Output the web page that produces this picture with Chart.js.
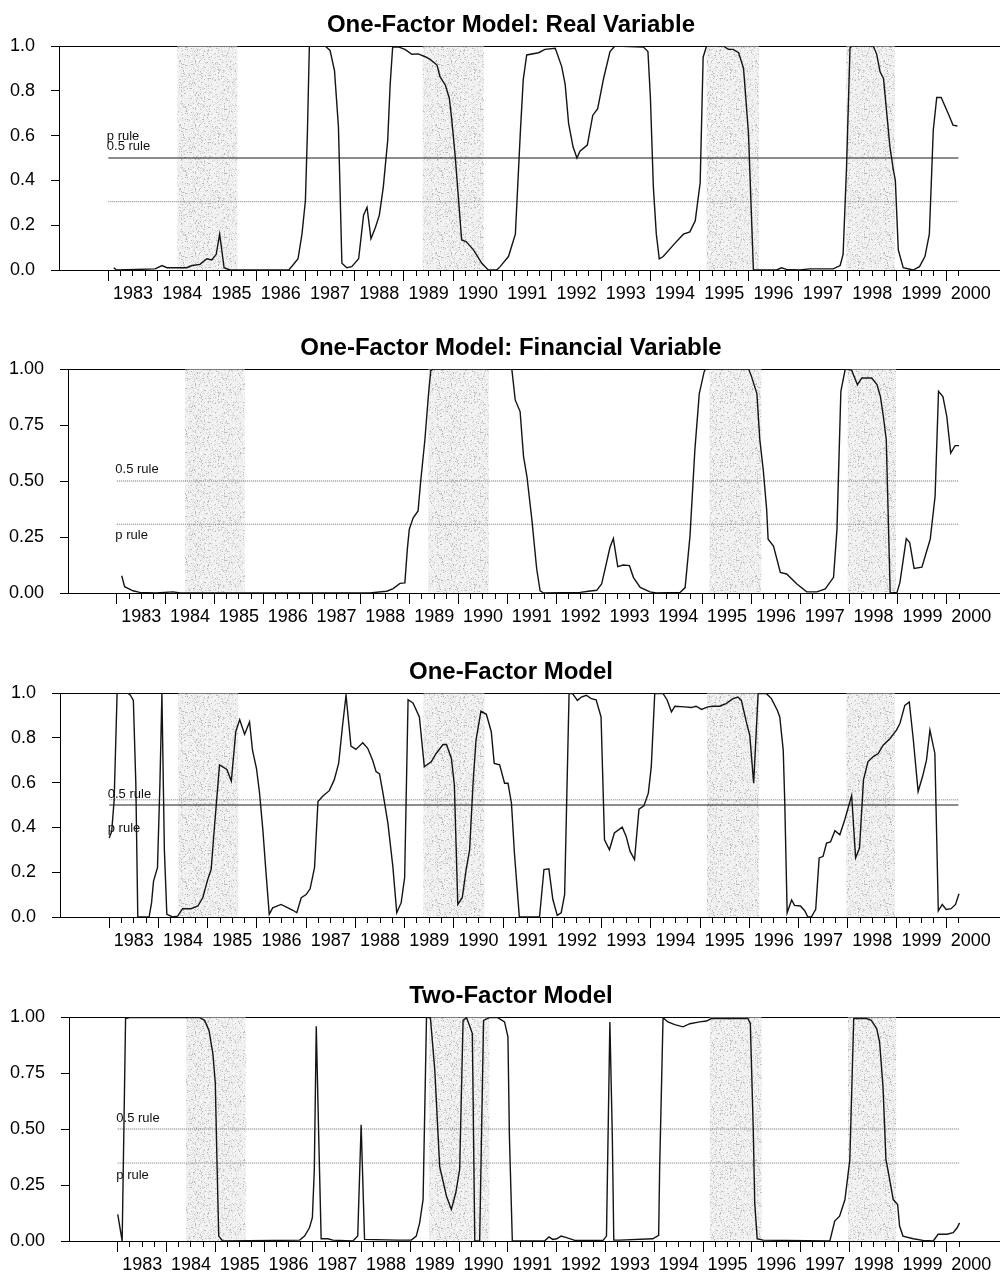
<!DOCTYPE html>
<html>
<head>
<meta charset="utf-8">
<script src="https://cdn.jsdelivr.net/npm/chart.js@4.4.1/dist/chart.umd.min.js"></script>
<style>
body { margin: 0; background: #fff; }
#wrap { position: relative; width: 1000px; height: 1273px; overflow: hidden; }
#wrap canvas { position: absolute; left: 0; }
</style>
</head>
<body>
<div id="wrap">
  <canvas id="c1" width="1022" height="302"></canvas>
  <canvas id="c2" width="1022" height="302"></canvas>
  <canvas id="c3" width="1022" height="302"></canvas>
  <canvas id="c4" width="1022" height="302"></canvas>
</div>
<script>
// year labels shown under the x axis (centred on mid-year)
var yearLabels = ['1983', '1984', '1985', '1986', '1987', '1988', '1989', '1990', '1991',
    '1992', '1993', '1994', '1995', '1996', '1997', '1998', '1999', '2000'];

// shaded periods (decimal years)
var shadeStart = [1984.40, 1989.38, 1995.14, 1997.97];
var shadeEnd = [1985.62, 1990.62, 1996.20, 1998.96];

// span of the two rule lines
var ruleSpan = [1983.0, 2000.25];
var halfRule = 0.5;
var pRuleValues = [0.305, 0.307, 0.523, 0.348];

// One-Factor Model: Real Variable
var realDates = [1983.11, 1983.17, 1983.95, 1984.09, 1984.19, 1984.59, 1984.70, 1984.86, 1985.00, 1985.10,
    1985.19, 1985.26, 1985.35, 1985.47, 1986.66, 1986.74, 1986.85, 1986.93, 1987.00, 1987.04,
    1987.08, 1987.40, 1987.50, 1987.59, 1987.67, 1987.74, 1987.84, 1987.94, 1988.08, 1988.18,
    1988.25, 1988.33, 1988.42, 1988.50, 1988.58, 1988.67, 1988.72, 1988.77, 1988.90, 1989.02,
    1989.16, 1989.29, 1989.43, 1989.53, 1989.67, 1989.73, 1989.84, 1989.92, 1989.97, 1990.04,
    1990.17, 1990.26, 1990.41, 1990.58, 1990.71, 1990.88, 1990.95, 1991.12, 1991.26, 1991.36,
    1991.42, 1991.49, 1991.73, 1991.86, 1992.07, 1992.20, 1992.27, 1992.34, 1992.43, 1992.51,
    1992.57, 1992.72, 1992.83, 1992.93, 1993.05, 1993.18, 1993.28, 1993.86, 1993.95, 1994.00,
    1994.06, 1994.12, 1994.18, 1994.26, 1994.50, 1994.67, 1994.80, 1994.91, 1995.01, 1995.07,
    1995.14, 1995.48, 1995.58, 1995.68, 1995.79, 1995.89, 1995.99, 1996.09, 1996.56, 1996.66,
    1996.76, 1997.03, 1997.23, 1997.71, 1997.85, 1997.91, 1997.98, 1998.05, 1998.08, 1998.52,
    1998.59, 1998.66, 1998.73, 1998.79, 1998.86, 1998.93, 1998.97, 1999.03, 1999.13, 1999.33,
    1999.46, 1999.57, 1999.66, 1999.74, 1999.81, 1999.90, 2000.04, 2000.14, 2000.23];
var realProb = [0.01, 0.0, 0.005, 0.02, 0.01, 0.01, 0.02, 0.025, 0.05, 0.045,
    0.07, 0.16, 0.01, 0.0, 0.0, 0.02, 0.05, 0.16, 0.31, 0.61,
    1.0, 1.0, 0.98, 0.89, 0.64, 0.03, 0.01, 0.015, 0.05, 0.245,
    0.28, 0.14, 0.19, 0.245, 0.37, 0.58, 0.83, 0.995, 0.995, 0.985,
    0.963, 0.965, 0.952, 0.94, 0.915, 0.863, 0.825, 0.767, 0.67, 0.506,
    0.134, 0.127, 0.09, 0.03, 0.0, 0.0, 0.015, 0.06, 0.16, 0.61,
    0.85, 0.96, 0.97, 0.985, 0.99, 0.908, 0.83, 0.655, 0.55, 0.50,
    0.53, 0.558, 0.69, 0.72, 0.855, 0.975, 1.0, 0.995, 0.975, 0.77,
    0.37, 0.16, 0.05, 0.06, 0.12, 0.16, 0.17, 0.22, 0.39, 0.95,
    1.0, 1.0, 0.985, 0.985, 0.97, 0.90, 0.61, 0.0, 0.0, 0.01,
    0.003, 0.0, 0.005, 0.005, 0.02, 0.07, 0.46, 0.99, 1.0, 1.0,
    0.965, 0.885, 0.855, 0.714, 0.55, 0.446, 0.40, 0.09, 0.01, 0.0,
    0.015, 0.06, 0.16, 0.625, 0.77, 0.77, 0.70, 0.647, 0.643];

// One-Factor Model: Financial Variable
var finDates = [1983.10, 1983.16, 1983.33, 1983.47, 1983.80, 1984.15, 1984.30, 1988.18, 1988.53, 1988.66,
    1988.80, 1988.90, 1988.95, 1988.99, 1989.07, 1989.17, 1989.22, 1989.31, 1989.38, 1989.43,
    1989.49, 1991.09, 1991.16, 1991.26, 1991.33, 1991.40, 1991.50, 1991.60, 1991.67, 1991.74,
    1992.49, 1992.66, 1992.83, 1992.93, 1993.03, 1993.10, 1993.17, 1993.26, 1993.37, 1993.50,
    1993.58, 1993.72, 1993.92, 1994.05, 1994.54, 1994.64, 1994.74, 1994.84, 1994.93, 1995.03,
    1995.06, 1995.94, 1996.00, 1996.11, 1996.17, 1996.24, 1996.31, 1996.34, 1996.45, 1996.59,
    1996.72, 1996.93, 1997.13, 1997.34, 1997.51, 1997.68, 1997.75, 1997.83, 1997.92, 1998.05,
    1998.17, 1998.26, 1998.46, 1998.57, 1998.64, 1998.70, 1998.76, 1998.84, 1998.98, 1999.04,
    1999.17, 1999.24, 1999.33, 1999.49, 1999.66, 1999.76, 1999.83, 1999.92, 2000.00, 2000.08,
    2000.17, 2000.25];
var finProb = [0.077, 0.028, 0.01, 0.003, 0.0, 0.005, 0.0, 0.0, 0.008, 0.02,
    0.043, 0.045, 0.195, 0.284, 0.336, 0.366, 0.49, 0.684, 0.877, 0.993,
    1.0, 1.0, 0.862, 0.81, 0.61, 0.52, 0.33, 0.107, 0.01, 0.0,
    0.003, 0.008, 0.012, 0.04, 0.136, 0.203, 0.243, 0.118, 0.125, 0.122,
    0.07, 0.025, 0.005, 0.0, 0.003, 0.024, 0.255, 0.64, 0.89, 0.988,
    1.0, 1.0, 0.966, 0.89, 0.684, 0.55, 0.373, 0.24, 0.21, 0.092,
    0.085, 0.04, 0.005, 0.005, 0.018, 0.07, 0.284, 0.90, 1.0, 0.995,
    0.93, 0.96, 0.96, 0.93, 0.877, 0.788, 0.684, 0.0, 0.003, 0.047,
    0.243, 0.225, 0.11, 0.115, 0.24, 0.432, 0.90, 0.877, 0.788, 0.625,
    0.658, 0.658];

// One-Factor Model
var oneDates = [1983.00, 1983.05, 1983.10, 1983.16, 1983.37, 1983.43, 1983.49, 1983.54, 1983.58, 1983.81,
    1983.86, 1983.90, 1983.98, 1984.03, 1984.07, 1984.12, 1984.17, 1984.29, 1984.39, 1984.49,
    1984.66, 1984.80, 1984.90, 1985.00, 1985.07, 1985.13, 1985.24, 1985.39, 1985.48, 1985.57,
    1985.65, 1985.75, 1985.85, 1985.91, 1985.99, 1986.05, 1986.12, 1986.19, 1986.25, 1986.32,
    1986.49, 1986.63, 1986.73, 1986.81, 1986.90, 1987.00, 1987.08, 1987.17, 1987.24, 1987.34,
    1987.47, 1987.57, 1987.66, 1987.74, 1987.81, 1987.91, 1988.01, 1988.15, 1988.25, 1988.35,
    1988.42, 1988.49, 1988.56, 1988.66, 1988.76, 1988.84, 1988.93, 1989.00, 1989.07, 1989.17,
    1989.30, 1989.40, 1989.54, 1989.64, 1989.78, 1989.85, 1989.95, 1990.01, 1990.08, 1990.17,
    1990.25, 1990.32, 1990.39, 1990.45, 1990.55, 1990.66, 1990.76, 1990.82, 1990.93, 1991.03,
    1991.10, 1991.17, 1991.23, 1991.33, 1991.74, 1991.83, 1991.93, 1992.01, 1992.10, 1992.18,
    1992.25, 1992.34, 1992.41, 1992.51, 1992.59, 1992.69, 1992.79, 1992.89, 1992.99, 1993.06,
    1993.16, 1993.26, 1993.42, 1993.50, 1993.58, 1993.67, 1993.76, 1993.86, 1993.95, 1994.01,
    1994.08, 1994.25, 1994.33, 1994.42, 1994.49, 1994.69, 1994.82, 1994.92, 1995.03, 1995.16,
    1995.26, 1995.40, 1995.53, 1995.67, 1995.77, 1995.84, 1995.94, 1996.01, 1996.09, 1996.18,
    1996.35, 1996.45, 1996.57, 1996.62, 1996.69, 1996.72, 1996.77, 1996.86, 1996.92, 1997.04,
    1997.13, 1997.19, 1997.26, 1997.35, 1997.42, 1997.50, 1997.57, 1997.65, 1997.74, 1997.84,
    1997.94, 1998.08, 1998.16, 1998.24, 1998.32, 1998.41, 1998.52, 1998.62, 1998.72, 1998.86,
    1998.99, 1999.06, 1999.16, 1999.25, 1999.33, 1999.43, 1999.52, 1999.60, 1999.67, 1999.77,
    1999.84, 1999.92, 2000.00, 2000.10, 2000.19, 2000.26];
var oneProb = [0.353, 0.382, 0.523, 1.0, 1.0, 0.99, 0.967, 0.597, 0.0, 0.0,
    0.064, 0.16, 0.22, 0.597, 0.997, 0.30, 0.012, 0.0, 0.004, 0.037,
    0.037, 0.049, 0.086, 0.167, 0.212, 0.382, 0.679, 0.659, 0.607, 0.827,
    0.881, 0.816, 0.871, 0.745, 0.664, 0.56, 0.39, 0.182, 0.012, 0.041,
    0.056, 0.041, 0.03, 0.019, 0.086, 0.10, 0.126, 0.22, 0.516, 0.54,
    0.564, 0.612, 0.686, 0.856, 0.99, 0.763, 0.748, 0.778, 0.753, 0.70,
    0.649, 0.639, 0.553, 0.419, 0.227, 0.019, 0.064, 0.175, 0.97, 0.956,
    0.893, 0.671, 0.693, 0.73, 0.77, 0.77, 0.708, 0.59, 0.056, 0.086,
    0.212, 0.30, 0.597, 0.79, 0.919, 0.905, 0.827, 0.686, 0.679, 0.597,
    0.597, 0.508, 0.286, 0.0, 0.0, 0.212, 0.215, 0.079, 0.007, 0.019,
    0.10, 0.997, 0.997, 0.967, 0.982, 0.99, 0.975, 0.97, 0.893, 0.345,
    0.30, 0.375, 0.401, 0.36, 0.293, 0.256, 0.481, 0.496, 0.553, 0.671,
    0.997, 0.997, 0.97, 0.916, 0.941, 0.938, 0.935, 0.941, 0.927, 0.938,
    0.941, 0.941, 0.953, 0.975, 0.982, 0.967, 0.871, 0.812, 0.597, 0.997,
    0.997, 0.975, 0.923, 0.893, 0.745, 0.523, 0.019, 0.076, 0.052, 0.049,
    0.027, 0.0, 0.0, 0.034, 0.264, 0.271, 0.33, 0.335, 0.385, 0.367,
    0.434, 0.542, 0.264, 0.308, 0.612, 0.693, 0.716, 0.73, 0.767, 0.797,
    0.834, 0.864, 0.945, 0.96, 0.797, 0.56, 0.627, 0.70, 0.834, 0.73,
    0.027, 0.056, 0.034, 0.037, 0.056, 0.104];

// Two-Factor Model
var twoDates = [1983.00, 1983.09, 1983.16, 1983.24, 1984.68, 1984.78, 1984.87, 1984.95, 1985.00, 1985.03,
    1985.07, 1985.15, 1986.73, 1986.83, 1986.93, 1986.99, 1987.03, 1987.07, 1987.12, 1987.17,
    1987.31, 1987.41, 1987.82, 1987.92, 1987.99, 1988.06, 1988.74, 1989.02, 1989.12, 1989.19,
    1989.26, 1989.33, 1989.41, 1989.50, 1989.60, 1989.74, 1989.84, 1989.93, 1990.01, 1990.08,
    1990.15, 1990.21, 1990.27, 1990.32, 1990.42, 1990.50, 1990.62, 1990.79, 1990.93, 1991.00,
    1991.03, 1991.09, 1991.75, 1991.84, 1991.92, 1992.00, 1992.09, 1992.20, 1992.37, 1992.95,
    1993.02, 1993.09, 1993.14, 1993.17, 1993.29, 1993.97, 1994.09, 1994.11, 1994.18, 1994.28,
    1994.42, 1994.59, 1994.73, 1994.93, 1995.07, 1995.17, 1995.92, 1995.97, 1996.03, 1996.06,
    1996.11, 1996.23, 1997.60, 1997.70, 1997.80, 1997.91, 1998.01, 1998.09, 1998.35, 1998.45,
    1998.56, 1998.62, 1998.69, 1998.75, 1998.79, 1998.90, 1998.99, 1999.03, 1999.10, 1999.31,
    1999.51, 1999.72, 1999.82, 2000.00, 2000.13, 2000.21, 2000.26];
var twoProb = [0.119, 0.0, 0.993, 0.997, 0.997, 0.985, 0.94, 0.837, 0.704, 0.393,
    0.022, 0.0, 0.004, 0.022, 0.059, 0.104, 0.319, 0.959, 0.467, 0.01,
    0.01, 0.004, 0.0, 0.022, 0.519, 0.007, 0.004, 0.004, 0.022, 0.081,
    0.185, 0.997, 0.997, 0.763, 0.333, 0.20, 0.141, 0.215, 0.319, 0.985,
    0.997, 0.963, 0.926, 0.0, 0.0, 0.985, 0.997, 0.997, 0.978, 0.911,
    0.467, 0.0, 0.0, 0.018, 0.007, 0.01, 0.022, 0.015, 0.003, 0.003,
    0.022, 0.978, 0.467, 0.004, 0.004, 0.01, 0.025, 0.319, 0.997, 0.978,
    0.966, 0.956, 0.97, 0.978, 0.982, 0.993, 0.993, 0.97, 0.496, 0.17,
    0.01, 0.004, 0.0, 0.089, 0.111, 0.185, 0.363, 0.993, 0.993, 0.985,
    0.948, 0.889, 0.689, 0.363, 0.319, 0.185, 0.163, 0.067, 0.022, 0.01,
    0.003, 0.0, 0.03, 0.03, 0.037, 0.059, 0.081];

var FONT = "'Liberation Sans', Arial, Helvetica, sans-serif";

// panel layout (pixel placement of each canvas / plot area)
var panels = [
    { id: 'c1', top: 0, left: 59, title: 'One-Factor Model: Real Variable',
      dates: realDates, probs: realProb, pRule: pRuleValues[0], step: 0.2, digits: 1,
      halfSolid: true, labels: [{ text: 'p rule', y: 0.595 }, { text: '0.5 rule', y: 0.55 }] },
    { id: 'c2', top: 323, left: 68, title: 'One-Factor Model: Financial Variable',
      dates: finDates, probs: finProb, pRule: pRuleValues[1], step: 0.25, digits: 2,
      halfSolid: false, labels: [{ text: '0.5 rule', y: 0.551 }, { text: 'p rule', y: 0.255 }] },
    { id: 'c3', top: 647, left: 60, title: 'One-Factor Model',
      dates: oneDates, probs: oneProb, pRule: pRuleValues[2], step: 0.2, digits: 1,
      halfSolid: true, labels: [{ text: '0.5 rule', y: 0.545 }, { text: 'p rule', y: 0.394 }] },
    { id: 'c4', top: 971, left: 69, title: 'Two-Factor Model',
      dates: twoDates, probs: twoProb, pRule: pRuleValues[3], step: 0.25, digits: 2,
      halfSolid: false, labels: [{ text: '0.5 rule', y: 0.548 }, { text: 'p rule', y: 0.293 }] }
];

var PLOT_H = 224;      // plot area height
var TITLE_BOX = 46;    // title block above the plot
var CANVAS_H = 302;
var X_MIN = 1982;
var X_MAX = 2001.54;   // canvas is 22px wider than the page so the title sits at x=511

function stipplePattern() {
    // grey stipple texture for the shaded periods (deterministic hash)
    var size = 64;
    var c = document.createElement('canvas');
    c.width = size;
    c.height = size;
    var g = c.getContext('2d');
    g.fillStyle = '#f0f0f0';
    g.fillRect(0, 0, size, size);
    for (var y = 0; y < size; y++) {
        for (var x = 0; x < size; x++) {
            var h = Math.imul(x * 374761393 + y * 668265263, 1274126177) >>> 0;
            h = (h ^ (h >>> 13)) >>> 0;
            var r = (h % 1000) / 1000;
            if (r < 0.05) {
                g.fillStyle = '#b8b8b8';
                g.fillRect(x, y, 1, 1);
            } else if (r < 0.20) {
                g.fillStyle = '#d6d6d6';
                g.fillRect(x, y, 1, 1);
            } else if (r < 0.32) {
                g.fillStyle = '#fbfbfb';
                g.fillRect(x, y, 1, 1);
            }
        }
    }
    return g.createPattern(c, 'repeat');
}

function shadePoints() {
    // stepped outline: up at each start, down at each end
    var pts = [{ x: X_MIN, y: 0 }];
    for (var i = 0; i < shadeStart.length; i++) {
        pts.push({ x: shadeStart[i], y: 1 });
        pts.push({ x: shadeEnd[i], y: 0 });
    }
    pts.push({ x: X_MAX, y: 0 });
    return pts;
}

function toPoints(xs, ys) {
    var pts = [];
    for (var i = 0; i < xs.length; i++) {
        pts.push({ x: xs[i], y: ys[i] });
    }
    return pts;
}

var ruleLabels = {
    id: 'ruleLabels',
    afterDatasetsDraw: function(chart, args, opts) {
        var ctx = chart.ctx;
        var xs = chart.scales.x;
        var ys = chart.scales.y;
        ctx.save();
        ctx.font = '13px ' + FONT;
        ctx.fillStyle = '#111';
        ctx.textAlign = 'left';
        ctx.textBaseline = 'middle';
        opts.items.forEach(function(it) {
            ctx.fillText(it.text, xs.getPixelForValue(1982.97), ys.getPixelForValue(it.y));
        });
        ctx.restore();
    }
};

var pattern = stipplePattern();

panels.forEach(function(p) {
    var canvas = document.getElementById(p.id);
    canvas.style.top = p.top + 'px';

    var datasets = [
        {
            data: toPoints(p.dates, p.probs),
            borderColor: '#141414',
            borderWidth: 1.4,
            pointRadius: 0,
            tension: 0,
            fill: false,
            order: 1
        },
        {
            data: [{ x: ruleSpan[0], y: halfRule }, { x: ruleSpan[1], y: halfRule }],
            borderColor: p.halfSolid ? '#1a1a1a' : '#666',
            borderWidth: p.halfSolid ? 1.2 : 1,
            borderDash: p.halfSolid ? [] : [1, 1],
            pointRadius: 0,
            fill: false,
            order: 2
        },
        {
            data: [{ x: ruleSpan[0], y: p.pRule }, { x: ruleSpan[1], y: p.pRule }],
            borderColor: '#777',
            borderWidth: 1,
            borderDash: [1, 1],
            pointRadius: 0,
            fill: false,
            order: 2
        },
        {
            // top frame line at 1.0, kept above the shading
            data: [{ x: X_MIN, y: 1 }, { x: X_MAX, y: 1 }],
            borderColor: '#000',
            borderWidth: 1,
            pointRadius: 0,
            fill: false,
            order: 2
        },
        {
            data: shadePoints(),
            stepped: 'before',
            borderWidth: 0,
            borderColor: 'rgba(0,0,0,0)',
            backgroundColor: pattern,
            pointRadius: 0,
            fill: 'origin',
            order: 3
        }
    ];

    new Chart(canvas, {
        type: 'line',
        data: { datasets: datasets },
        plugins: [ruleLabels],
        options: {
            responsive: false,
            animation: false,
            events: [],
            layout: { padding: 0 },
            plugins: {
                legend: { display: false },
                tooltip: { enabled: false },
                title: {
                    display: true,
                    text: p.title,
                    color: '#000',
                    font: { family: FONT, size: 24, weight: 'bold', lineHeight: 1.25 },
                    padding: { top: 10, bottom: TITLE_BOX - 10 - 30 }
                },
                ruleLabels: { items: p.labels }
            },
            scales: {
                x: {
                    type: 'linear',
                    min: X_MIN,
                    max: X_MAX,
                    afterBuildTicks: function(scale) {
                        var t = [];
                        for (var q = 0; q <= 70; q++) {
                            t.push({ value: 1983 + q * 0.25 });
                        }
                        scale.ticks = t;
                    },
                    afterFit: function(scale) {
                        scale.height = CANVAS_H - TITLE_BOX - PLOT_H;
                    },
                    grid: {
                        drawOnChartArea: false,
                        drawTicks: true,
                        tickLength: 11,
                        tickWidth: 1,
                        tickColor: function(ctx) {
                            return ctx.tick && ctx.tick.value > 2000.3 ? 'rgba(0,0,0,0)' : '#000';
                        },
                        tickBorderDash: function(ctx) {
                            return ctx.tick && ctx.tick.value % 1 === 0 ? [] : [5, 40];
                        }
                    },
                    border: { display: true, color: '#000', width: 1 },
                    ticks: {
                        autoSkip: false,
                        maxRotation: 0,
                        minRotation: 0,
                        padding: 2,
                        color: '#000',
                        font: { family: FONT, size: 18 },
                        callback: function(value) {
                            var yr = Math.floor(value);
                            if (Math.abs(value - yr - 0.5) < 1e-6) {
                                return yearLabels[yr - 1983];
                            }
                            return '';
                        }
                    }
                },
                y: {
                    min: 0,
                    max: 1,
                    afterFit: function(scale) {
                        scale.width = p.left;
                    },
                    grid: {
                        drawTicks: true,
                        tickLength: 8,
                        tickColor: '#000',
                        color: function(ctx) {
                            return ctx.tick && Math.abs(ctx.tick.value - 1) < 1e-6 ? '#000' : 'rgba(0,0,0,0)';
                        }
                    },
                    border: { display: true, color: '#000', width: 1 },
                    ticks: {
                        stepSize: p.step,
                        padding: 16,
                        color: '#000',
                        font: { family: FONT, size: 18 },
                        callback: function(value) {
                            return Number(value).toFixed(p.digits);
                        }
                    }
                }
            }
        }
    });
});
</script>
</body>
</html>
